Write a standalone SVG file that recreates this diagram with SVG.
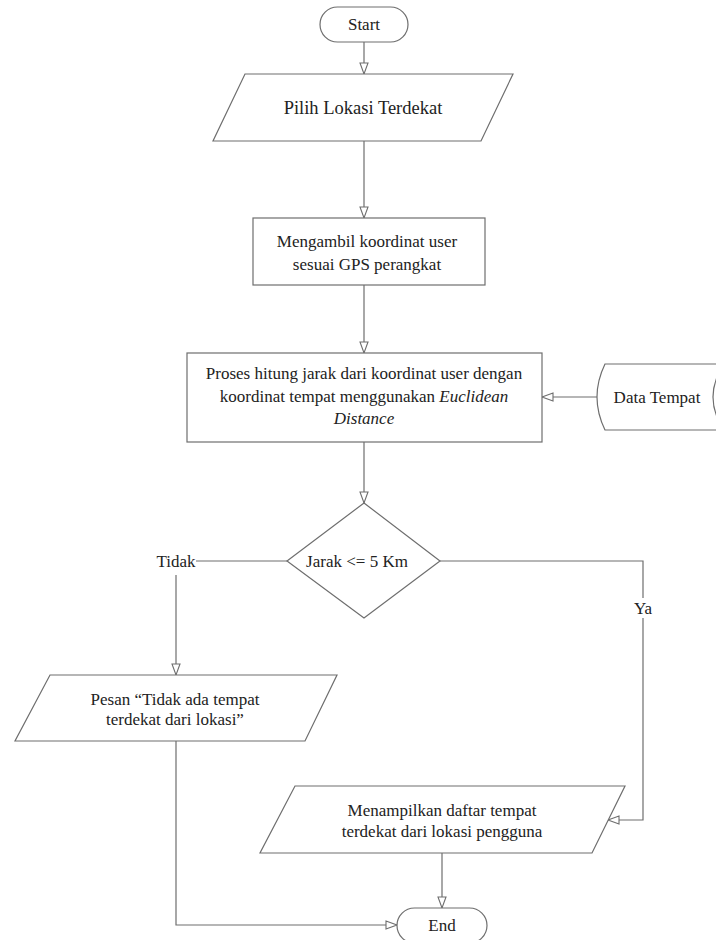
<svg xmlns="http://www.w3.org/2000/svg" width="716" height="940" viewBox="0 0 716 940">
<style>
.s{fill:#fff;stroke:#6e6e6e;stroke-width:1.2}
.c{fill:none;stroke:#6e6e6e;stroke-width:1.2}
text{font-family:"Liberation Serif","Times New Roman",serif;font-size:17px;fill:#222;text-anchor:middle;dominant-baseline:central}
.i{font-style:italic}
</style>
<defs>
<marker id="a" markerUnits="userSpaceOnUse" markerWidth="13" markerHeight="10" refX="11" refY="4.5" orient="auto" overflow="visible">
<path d="M0,0.5 L11,4.5 L0,8.5 Z" fill="#fff" stroke="#6e6e6e" stroke-width="1.1"/>
</marker>
</defs>
<rect width="716" height="940" fill="#fff"/>
<g id="connectors">
<path class="c" d="M364,42 V74" marker-end="url(#a)"/>
<path class="c" d="M364,141 V218" marker-end="url(#a)"/>
<path class="c" d="M364,285 V353" marker-end="url(#a)"/>
<path class="c" d="M597,397 H542" marker-end="url(#a)"/>
<path class="c" d="M364,442 V503" marker-end="url(#a)"/>
<path class="c" d="M287,561 H196"/>
<path class="c" d="M176,575 V675" marker-end="url(#a)"/>
<path class="c" d="M440,561 H643 V820 H608" marker-end="url(#a)"/>
<path class="c" d="M176,741 V925 H397" marker-end="url(#a)"/>
<path class="c" d="M442,853 V908" marker-end="url(#a)"/>
<rect x="632" y="598" width="22" height="20" fill="#fff"/>
<text x="643" y="608">Ya</text>
<text x="176" y="561">Tidak</text>
</g>
<g id="start">
<rect class="s" x="320" y="7" width="88" height="35" rx="17.5"/>
<text x="364" y="24.5">Start</text>
</g>
<g id="pilih">
<path class="s" d="M245,74 H513 L481,141 H213 Z"/>
<text x="363" y="108" style="font-size:18.5px">Pilih Lokasi Terdekat</text>
</g>
<g id="ambil">
<rect class="s" x="253" y="218" width="232" height="67"/>
<text x="367" y="241">Mengambil koordinat user</text>
<text x="367" y="264">sesuai GPS perangkat</text>
</g>
<g id="proses">
<rect class="s" x="187" y="353" width="355" height="89"/>
<text x="364" y="373">Proses hitung jarak dari koordinat user dengan</text>
<text x="364" y="396">koordinat tempat menggunakan <tspan class="i">Euclidean</tspan></text>
<text x="364" y="418" class="i">Distance</text>
</g>
<g id="data">
<path class="s" d="M605,364 H740 V430 H605 Q589,397 605,364 Z"/>
<path class="c" d="M724,364 Q702,397 724,430"/>
<text x="657" y="397">Data Tempat</text>
</g>
<g id="decision">
<path class="s" d="M364,503 L440,561 L364,618 L287,561 Z"/>
<text x="357" y="561">Jarak &lt;= 5 Km</text>
</g>
<g id="pesan">
<path class="s" d="M50,675 H337 L305,741 H15 Z"/>
<text x="175" y="699">Pesan “Tidak ada tempat</text>
<text x="175" y="719">terdekat dari lokasi”</text>
</g>
<g id="tampil">
<path class="s" d="M295,786 H625 L592,853 H260 Z"/>
<text x="442" y="810">Menampilkan daftar tempat</text>
<text x="442" y="831">terdekat dari lokasi pengguna</text>
</g>
<g id="end">
<rect class="s" x="397" y="908" width="90" height="35" rx="17.5"/>
<text x="442" y="925">End</text>
</g>
</svg>
